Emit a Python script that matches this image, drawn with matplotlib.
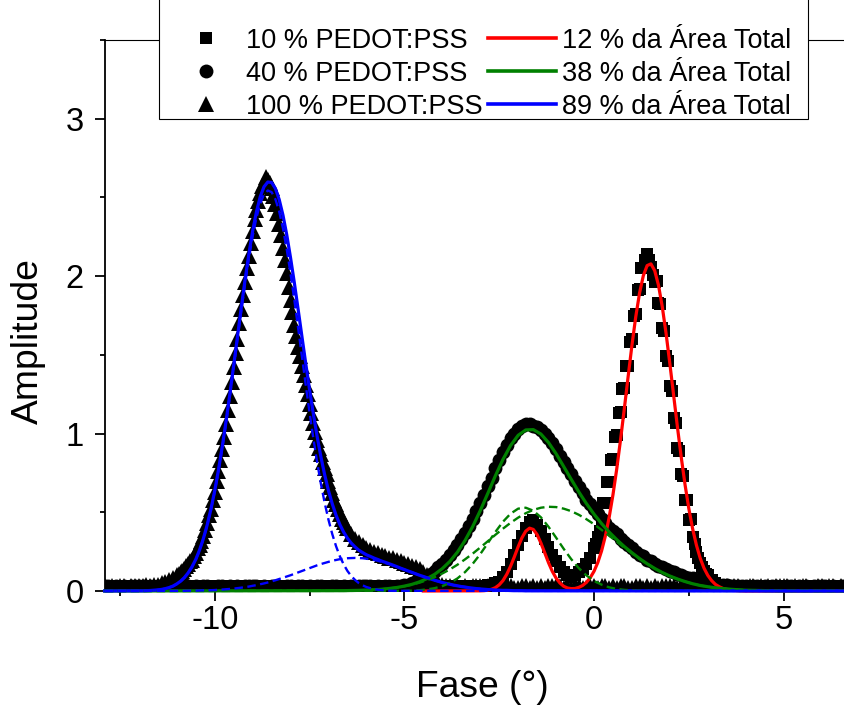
import numpy as np
import matplotlib.pyplot as plt
from matplotlib.lines import Line2D
from matplotlib.patches import Rectangle
from matplotlib.ticker import MultipleLocator

plt.rcParams['font.family'] = ['Liberation Sans', 'DejaVu Sans']
plt.rcParams['axes.unicode_minus'] = False

# measured points: phase from -13.0 to 6.9 in steps of 0.1 (one row = 1 degree)
phase = np.round(-13.0 + 0.1 * np.arange(200), 1)

amp_10 = [
    0.03, 0.02, 0.03, 0.03, 0.02, 0.03, 0.02, 0.03, 0.03, 0.02,  # -13
    0.02, 0.03, 0.03, 0.02, 0.03, 0.02, 0.03, 0.02, 0.03, 0.03,  # -12
    0.03, 0.03, 0.02, 0.03, 0.02, 0.03, 0.03, 0.02, 0.02, 0.03,  # -11
    0.03, 0.02, 0.03, 0.03, 0.02, 0.03, 0.02, 0.03, 0.03, 0.02,  # -10
    0.02, 0.03, 0.03, 0.02, 0.03, 0.02, 0.03, 0.02, 0.03, 0.03,  # -9
    0.03, 0.03, 0.02, 0.03, 0.02, 0.03, 0.03, 0.02, 0.02, 0.03,  # -8
    0.03, 0.02, 0.03, 0.03, 0.02, 0.03, 0.02, 0.03, 0.03, 0.02,  # -7
    0.02, 0.03, 0.03, 0.02, 0.03, 0.02, 0.03, 0.02, 0.03, 0.03,  # -6
    0.03, 0.03, 0.02, 0.03, 0.02, 0.03, 0.03, 0.02, 0.02, 0.03,  # -5
    0.03, 0.02, 0.03, 0.03, 0.02, 0.03, 0.02, 0.03, 0.03, 0.02,  # -4
    0.03, 0.03, 0.04, 0.04, 0.05, 0.06, 0.09, 0.12, 0.17, 0.23,  # -3
    0.29, 0.35, 0.40, 0.44, 0.45, 0.42, 0.38, 0.33, 0.28, 0.23,  # -2
    0.19, 0.15, 0.12, 0.10, 0.09, 0.10, 0.12, 0.14, 0.17, 0.21,  # -1
    0.27, 0.34, 0.43, 0.56, 0.69, 0.84, 0.99, 1.14, 1.29, 1.43,  # 0
    1.60, 1.76, 1.92, 2.05, 2.14, 2.06, 1.96, 1.83, 1.67, 1.49,  # 1
    1.30, 1.10, 0.91, 0.74, 0.58, 0.45, 0.34, 0.25, 0.18, 0.13,  # 2
    0.10, 0.07, 0.05, 0.04, 0.03, 0.03, 0.02, 0.03, 0.03, 0.02,  # 3
    0.02, 0.03, 0.03, 0.02, 0.03, 0.02, 0.03, 0.02, 0.03, 0.03,  # 4
    0.03, 0.03, 0.02, 0.03, 0.02, 0.03, 0.03, 0.02, 0.02, 0.03,  # 5
    0.03, 0.02, 0.03, 0.03, 0.02, 0.03, 0.02, 0.03, 0.03, 0.02,  # 6
]
# extra points between the grid on the steep main peak, from 0.05 to 2.95
phase_mid_10 = np.round(0.05 + 0.1 * np.arange(30), 2)
amp_10_mid = [
    0.30, 0.38, 0.56, 0.69, 0.83, 0.98, 1.13, 1.28, 1.43, 1.58,
    1.75, 1.91, 2.05, 2.10, 2.10, 2.01, 1.97, 1.82, 1.65, 1.46,
    1.27, 1.07, 0.89, 0.73, 0.58, 0.46, 0.30, 0.21, 0.15, 0.11,
]

amp_40 = [
    0.02, 0.03, 0.03, 0.02, 0.03, 0.02, 0.03, 0.02, 0.03, 0.03,  # -13
    0.03, 0.03, 0.02, 0.03, 0.02, 0.03, 0.03, 0.02, 0.02, 0.03,  # -12
    0.03, 0.02, 0.03, 0.03, 0.02, 0.03, 0.02, 0.03, 0.03, 0.02,  # -11
    0.02, 0.03, 0.03, 0.02, 0.03, 0.02, 0.03, 0.02, 0.03, 0.03,  # -10
    0.03, 0.03, 0.02, 0.03, 0.02, 0.03, 0.03, 0.02, 0.02, 0.03,  # -9
    0.03, 0.02, 0.03, 0.03, 0.02, 0.03, 0.02, 0.03, 0.03, 0.02,  # -8
    0.02, 0.03, 0.03, 0.02, 0.03, 0.02, 0.03, 0.02, 0.03, 0.03,  # -7
    0.03, 0.03, 0.02, 0.03, 0.02, 0.03, 0.03, 0.02, 0.03, 0.03,  # -6
    0.04, 0.04, 0.05, 0.06, 0.07, 0.08, 0.09, 0.11, 0.13, 0.15,  # -5
    0.17, 0.20, 0.23, 0.26, 0.29, 0.33, 0.37, 0.41, 0.46, 0.51,  # -4
    0.56, 0.61, 0.67, 0.72, 0.78, 0.83, 0.88, 0.93, 0.97, 1.00,  # -3
    1.03, 1.05, 1.06, 1.06, 1.05, 1.04, 1.02, 1.00, 0.97, 0.94,  # -2
    0.90, 0.86, 0.82, 0.78, 0.74, 0.70, 0.66, 0.62, 0.58, 0.55,  # -1
    0.52, 0.49, 0.46, 0.43, 0.40, 0.38, 0.36, 0.33, 0.31, 0.29,  # 0
    0.27, 0.25, 0.23, 0.22, 0.20, 0.19, 0.17, 0.16, 0.15, 0.14,  # 1
    0.13, 0.12, 0.11, 0.10, 0.09, 0.08, 0.08, 0.07, 0.07, 0.06,  # 2
    0.06, 0.05, 0.05, 0.04, 0.04, 0.04, 0.03, 0.03, 0.03, 0.03,  # 3
    0.03, 0.02, 0.03, 0.03, 0.02, 0.03, 0.02, 0.03, 0.03, 0.02,  # 4
    0.02, 0.03, 0.03, 0.02, 0.03, 0.02, 0.03, 0.02, 0.03, 0.03,  # 5
    0.03, 0.03, 0.02, 0.03, 0.02, 0.03, 0.03, 0.02, 0.02, 0.03,  # 6
]

amp_100 = [
    0.03, 0.03, 0.02, 0.03, 0.02, 0.03, 0.03, 0.02, 0.03, 0.03,  # -13
    0.03, 0.03, 0.04, 0.03, 0.04, 0.04, 0.05, 0.06, 0.07, 0.08,  # -12
    0.10, 0.12, 0.14, 0.17, 0.20, 0.24, 0.29, 0.35, 0.43, 0.52,  # -11
    0.63, 0.76, 0.90, 1.06, 1.24, 1.42, 1.60, 1.79, 1.96, 2.13,  # -10
    2.29, 2.42, 2.53, 2.59, 2.61, 2.56, 2.46, 2.33, 2.18, 2.02,  # -9
    1.85, 1.69, 1.55, 1.43, 1.31, 1.19, 1.07, 0.96, 0.87, 0.78,  # -8
    0.70, 0.62, 0.55, 0.49, 0.44, 0.40, 0.36, 0.33, 0.31, 0.29,  # -7
    0.27, 0.26, 0.25, 0.24, 0.23, 0.22, 0.21, 0.21, 0.20, 0.19,  # -6
    0.18, 0.17, 0.16, 0.15, 0.14, 0.12, 0.10, 0.08, 0.06, 0.05,  # -5
    0.04, 0.03, 0.03, 0.02, 0.03, 0.02, 0.03, 0.02, 0.03, 0.03,  # -4
    0.03, 0.02, 0.03, 0.03, 0.02, 0.03, 0.02, 0.03, 0.03, 0.02,  # -3
    0.02, 0.03, 0.03, 0.02, 0.03, 0.02, 0.03, 0.02, 0.03, 0.03,  # -2
    0.03, 0.03, 0.02, 0.03, 0.02, 0.03, 0.03, 0.02, 0.02, 0.03,  # -1
    0.03, 0.02, 0.03, 0.03, 0.02, 0.03, 0.02, 0.03, 0.03, 0.02,  # 0
    0.02, 0.03, 0.03, 0.02, 0.03, 0.02, 0.03, 0.02, 0.03, 0.03,  # 1
    0.03, 0.03, 0.02, 0.03, 0.02, 0.03, 0.03, 0.02, 0.02, 0.03,  # 2
    0.03, 0.02, 0.03, 0.03, 0.02, 0.03, 0.02, 0.03, 0.03, 0.02,  # 3
    0.02, 0.03, 0.03, 0.02, 0.03, 0.02, 0.03, 0.02, 0.03, 0.03,  # 4
    0.03, 0.03, 0.02, 0.03, 0.02, 0.03, 0.03, 0.02, 0.02, 0.03,  # 5
    0.03, 0.02, 0.03, 0.03, 0.02, 0.03, 0.02, 0.03, 0.03, 0.02,  # 6
]
# extra points between the grid on the main peak, from -10.95 to -6.55
phase_mid_100 = np.round(-10.95 + 0.1 * np.arange(45), 2)
amp_100_mid = [
    0.11, 0.13, 0.16, 0.19, 0.22, 0.27, 0.32, 0.39, 0.48, 0.58,
    0.70, 0.83, 0.98, 1.15, 1.33, 1.51, 1.70, 1.88, 2.05, 2.21,
    2.36, 2.48, 2.57, 2.63, 2.59, 2.51, 2.40, 2.26, 2.10, 1.93,
    1.77, 1.62, 1.49, 1.37, 1.25, 1.13, 1.01, 0.91, 0.82, 0.74,
    0.66, 0.58, 0.52, 0.46, 0.42,
]

# fitted curves; zero outside the listed part
fit_lo, fit_hi = -12.9, 6.9

# 12 % (red), from -3.0 in steps of 0.1, starts flat at -4.5
red_lo = -4.5
red_start, red_step = -3.0, 0.1
red_fit = [
    0.001, 0.002, 0.005, 0.011, 0.021, 0.039, 0.066, 0.106, 0.157, 0.217,
    0.281, 0.338, 0.380, 0.399, 0.391, 0.358, 0.305, 0.243, 0.180, 0.125,
    0.082, 0.051, 0.030, 0.019, 0.015, 0.016, 0.023, 0.035, 0.055, 0.084,
    0.125, 0.181, 0.255, 0.350, 0.469, 0.612, 0.777, 0.962, 1.160, 1.363,
    1.561, 1.741, 1.892, 2.003, 2.067, 2.078, 2.035, 1.942, 1.805, 1.635,
    1.443, 1.241, 1.040, 0.849, 0.675, 0.523, 0.395, 0.291, 0.208, 0.145,
    0.099, 0.066, 0.042, 0.027, 0.016, 0.010, 0.006, 0.003, 0.002, 0.001,
    0.000,
]

# 38 % (green), from -6.6 in steps of 0.2
green_start, green_step = -6.6, 0.2
green_fit = [
    0.002, 0.003, 0.004, 0.006, 0.008, 0.011, 0.016, 0.022, 0.031, 0.042,
    0.058, 0.079, 0.106, 0.142, 0.188, 0.247, 0.321, 0.409, 0.510, 0.620,
    0.732, 0.836, 0.924, 0.989, 1.023, 1.025, 0.997, 0.943, 0.872, 0.791,
    0.709, 0.629, 0.555, 0.488, 0.428, 0.374, 0.326, 0.282, 0.243, 0.206,
    0.173, 0.143, 0.117, 0.095, 0.076, 0.060, 0.046, 0.035, 0.027, 0.020,
    0.015, 0.011, 0.008, 0.005, 0.004, 0.003, 0.002, 0.001,
]
green_peak_b = [
    0.002, 0.003, 0.004, 0.006, 0.008, 0.011, 0.016, 0.022, 0.030, 0.040,
    0.053, 0.069, 0.088, 0.111, 0.137, 0.167, 0.201, 0.237, 0.276, 0.316,
    0.357, 0.396, 0.433, 0.466, 0.494, 0.515, 0.529, 0.535, 0.533, 0.523,
    0.507, 0.484, 0.456, 0.424, 0.388, 0.351, 0.313, 0.275, 0.239, 0.204,
    0.172, 0.143, 0.117, 0.095, 0.076, 0.060, 0.046, 0.035, 0.027, 0.020,
    0.015, 0.011, 0.008, 0.005, 0.004, 0.003, 0.002, 0.001,
]
# narrow green component, from -5.0 in steps of 0.2
green_a_start = -5.0
green_peak_a = [
    0.001, 0.002, 0.005, 0.010, 0.018, 0.031, 0.051, 0.080, 0.120, 0.172,
    0.234, 0.304, 0.375, 0.440, 0.491, 0.523, 0.529, 0.510, 0.468, 0.408,
    0.339, 0.268, 0.202, 0.145, 0.099, 0.064, 0.040, 0.023, 0.013, 0.007,
    0.004, 0.002, 0.001,
]

# 89 % (blue), from -12.0 in steps of 0.1
blue_start, blue_step = -12.0, 0.1
blue_fit = [
    0.001, 0.001, 0.002, 0.003, 0.005, 0.007, 0.010, 0.015, 0.022, 0.031,
    0.045, 0.062, 0.085, 0.115, 0.153, 0.200, 0.260, 0.332, 0.418, 0.519,
    0.636, 0.770, 0.918, 1.079, 1.252, 1.432, 1.616, 1.799, 1.976, 2.139,
    2.286, 2.408, 2.504, 2.568, 2.598, 2.595, 2.557, 2.487, 2.387, 2.262,
    2.116, 1.957, 1.788, 1.616, 1.445, 1.280, 1.125, 0.982, 0.852, 0.737,
    0.637, 0.553, 0.481, 0.422, 0.374, 0.335, 0.304, 0.280, 0.259, 0.244,
    0.230, 0.220, 0.209, 0.200, 0.190, 0.182, 0.173, 0.164, 0.155, 0.145,
    0.136, 0.127, 0.118, 0.109, 0.100, 0.092, 0.084, 0.076, 0.068, 0.061,
    0.054, 0.048, 0.043, 0.037, 0.033, 0.028, 0.025, 0.021, 0.018, 0.015,
    0.013, 0.011, 0.009, 0.008, 0.006, 0.005, 0.004, 0.004, 0.003, 0.002,
    0.002, 0.002, 0.001, 0.001, 0.001,
]
blue_peak_a = [
    0.001, 0.001, 0.002, 0.003, 0.005, 0.007, 0.010, 0.015, 0.022, 0.031,
    0.044, 0.061, 0.084, 0.113, 0.151, 0.198, 0.257, 0.328, 0.414, 0.514,
    0.630, 0.762, 0.909, 1.068, 1.239, 1.417, 1.598, 1.778, 1.951, 2.111,
    2.253, 2.371, 2.461, 2.520, 2.544, 2.534, 2.489, 2.411, 2.303, 2.170,
    2.016, 1.848, 1.670, 1.489, 1.309, 1.135, 0.971, 0.819, 0.681, 0.559,
    0.452, 0.361, 0.284, 0.220, 0.169, 0.127, 0.095, 0.070, 0.050, 0.036,
    0.025, 0.018, 0.012, 0.008, 0.005, 0.004, 0.002, 0.001, 0.001,
]
# broad blue component, from -11.0 in steps of 0.1
blue_b_start = -11.0
blue_peak_b = [
    0.001, 0.001, 0.001, 0.002, 0.002, 0.002, 0.003, 0.004, 0.004, 0.005,
    0.006, 0.008, 0.009, 0.011, 0.013, 0.015, 0.018, 0.021, 0.025, 0.028,
    0.033, 0.037, 0.043, 0.048, 0.054, 0.061, 0.068, 0.076, 0.084, 0.092,
    0.100, 0.109, 0.118, 0.127, 0.136, 0.145, 0.154, 0.163, 0.171, 0.178,
    0.185, 0.192, 0.197, 0.202, 0.205, 0.208, 0.209, 0.210, 0.209, 0.208,
    0.205, 0.202, 0.197, 0.192, 0.185, 0.178, 0.171, 0.163, 0.154, 0.145,
    0.136, 0.127, 0.118, 0.109, 0.100, 0.092, 0.084, 0.076, 0.068, 0.061,
    0.054, 0.048, 0.043, 0.037, 0.033, 0.028, 0.025, 0.021, 0.018, 0.015,
    0.013, 0.011, 0.009, 0.008, 0.006, 0.005, 0.004, 0.004, 0.003, 0.002,
    0.002, 0.002, 0.001, 0.001, 0.001,
]

data_labels = ['10 % PEDOT:PSS', '40 % PEDOT:PSS', '100 % PEDOT:PSS']
fit_labels = ['12 % da Área Total', '38 % da Área Total', '89 % da Área Total']


def curve(start, step, values, lo=fit_lo, hi=fit_hi):
    x = start + step * np.arange(len(values))
    return np.r_[lo, x, hi], np.r_[0.0, values, 0.0]


fig = plt.figure(figsize=(8.45, 7.11), dpi=100)
ax = fig.add_axes([0.1239, 0.1688, 0.8933, 0.7749])

ms = {'s': 8.6, 'o': 10, '^': 11}
points = [
    (phase, amp_10, 's'), (phase_mid_10, amp_10_mid, 's'),
    (phase, amp_40, 'o'),
    (phase, amp_100, '^'), (phase_mid_100, amp_100_mid, '^'),
]
for x, y, mk in points:
    ax.plot(x, y, ls='none', marker=mk, ms=ms[mk], color='black',
            mew=0, zorder=2)

solid = dict(lw=2.3, zorder=3, clip_on=False)
dashed = dict(lw=1.7, ls=(0, (3.6, 1.9)), zorder=3.5, clip_on=False)

ax.plot(*curve(red_start, red_step, red_fit, lo=red_lo), color='#ff0000', **solid)
ax.plot(*curve(green_start, green_step, green_fit), color='#008000', **solid)
ax.plot(*curve(blue_start, blue_step, blue_fit), color='#0000ff', **solid)

ax.plot(*curve(green_a_start, green_step, green_peak_a), color='#008000', **dashed)
ax.plot(*curve(green_start, green_step, green_peak_b), color='#008000', **dashed)
ax.plot(*curve(blue_start, blue_step, blue_peak_a), color='#0000ff', **dashed)
ax.plot(*curve(blue_b_start, blue_step, blue_peak_b), color='#0000ff', **dashed)

ax.set_xlim(-12.9, 7.0)
ax.set_ylim(0, 3.5)
ax.xaxis.set_major_locator(MultipleLocator(5))
ax.xaxis.set_minor_locator(MultipleLocator(2.5))
ax.yaxis.set_major_locator(MultipleLocator(1))
ax.yaxis.set_minor_locator(MultipleLocator(0.5))
ax.tick_params(which='both', direction='out', width=1.3, top=False, right=False)
ax.tick_params(which='major', length=7)
ax.tick_params(which='minor', length=3.5)
ax.tick_params(axis='x', which='major', labelsize=23.5, pad=3)
ax.tick_params(axis='y', which='major', labelsize=23.5, pad=8)

for side in ['left', 'bottom']:
    ax.spines[side].set_linewidth(1.3)
ax.spines['top'].set_linewidth(0.8)
ax.spines['right'].set_visible(False)

ax.set_xlabel('Fase (°)', fontsize=26.8)
ax.set_ylabel('Amplitude', fontsize=26.8)
ax.xaxis.set_label_coords(0.5, -0.143)
ax.yaxis.set_label_coords(-0.078, 0.454)

handles = [Line2D([], [], ls='none', marker=mk, ms=ms[mk], color='black', mew=0)
           for mk in ['s', 'o', '^']]
handles += [Line2D([], [], color=c, lw=2.6) for c in ['#ff0000', '#008000', '#0000ff']]

frame = Rectangle((159 / 845, 1 - 119 / 711), (808 - 159) / 845, 0.3,
                  transform=fig.transFigure, facecolor='white',
                  edgecolor='black', lw=0.8, zorder=4)
fig.add_artist(frame)
leg = fig.legend(handles, data_labels + fit_labels, ncol=2, frameon=False,
                 loc='lower left', bbox_to_anchor=(172 / 845, 1 - 119.5 / 711),
                 borderaxespad=0, borderpad=0, handlelength=2.5,
                 handletextpad=0.22, columnspacing=0.22, labelspacing=0.25,
                 fontsize=19.5)
leg.set_zorder(5)

fig.savefig('out.png', dpi=100)
